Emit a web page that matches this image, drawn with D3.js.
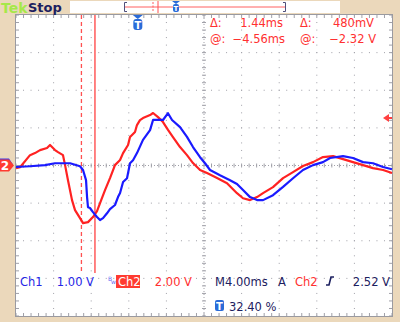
<!DOCTYPE html>
<html>
<head>
<meta charset="utf-8">
<script src="https://cdn.jsdelivr.net/npm/d3@7"></script>
<style>
  body { margin: 0; background: #ebd8bb; }
  svg { display: block; }
  text { font-family: "DejaVu Sans", sans-serif; }
</style>
</head>
<body>
<div id="scope"></div>
<script>
// Scope settings
let timePerDiv = 4.00;      // ms
let ch1VoltsPerDiv = 1.00;  // V
let ch2VoltsPerDiv = 2.00;  // V
let triggerPct = 32.40;     // %
let triggerLevel = 2.52;    // V on Ch2
let cursorTimes = [-6.00, -4.56]; // ms
let deltaVolts = 480;       // mV
let cursorVolts = -2.32;    // V

// Ch1 (blue) samples: time ms / volts
let ch1Times = [-12.96, -11.47, -9.87, -8.81, -7.21, -6.15, -5.83, -5.51, -5.40, -5.30, -5.09, -4.77, -4.34, -4.02,
    -3.70, -3.28, -2.96, -2.43, -2.11, -1.89, -1.57, -1.15, -0.83, -0.51, -0.09, 0.55, 1.30, 1.62, 2.15, 2.68, 3.21,
    3.64, 4.49, 5.23, 5.87, 6.62, 7.15, 7.68, 8.74, 9.81, 10.55, 11.19, 11.94, 12.68, 13.32, 14.38, 15.45, 16.51,
    17.57, 18.64, 19.70, 20.45, 21.83, 22.89, 23.96, 25.02, 26.09, 27.04];
let ch1Volts = [-0.04, -0.02, 0.01, 0.06, 0.06, -0.02, -0.12, -0.39, -0.84, -1.11, -1.13, -1.24, -1.37, -1.45,
    -1.40, -1.27, -1.16, -1.05, -0.84, -0.73, -0.44, -0.34, 0.06, 0.14, 0.33, 0.68, 0.94, 1.21, 1.21, 1.21, 1.39,
    1.21, 1.02, 0.76, 0.49, 0.22, 0.06, -0.12, -0.26, -0.39, -0.49, -0.65, -0.84, -0.92, -0.92, -0.79, -0.57, -0.34,
    -0.12, 0.01, 0.09, 0.20, 0.25, 0.20, 0.09, 0.06, -0.04, -0.10];

// Ch2 (red) samples: time ms / volts
let ch2Times = [-12.96, -12.53, -11.47, -10.94, -10.40, -9.66, -9.34, -8.81, -8.49, -7.96, -7.74, -7.43, -7.00,
    -6.68, -6.15, -5.83, -5.30, -4.77, -4.34, -4.02, -3.49, -2.96, -2.43, -1.89, -1.57, -1.04, -0.83, -0.30, -0.09,
    0.23, 0.55, 1.30, 1.62, 2.15, 2.68, 3.21, 3.74, 4.49, 5.23, 5.87, 6.62, 7.36, 8.43, 9.49, 10.55, 11.19, 11.94,
    12.68, 13.32, 14.38, 15.45, 16.51, 17.57, 18.64, 19.70, 20.77, 21.83, 22.89, 23.96, 25.02, 26.09, 27.04];
let ch2Volts = [-0.14, -0.09, 0.55, 0.66, 0.82, 0.93, 1.09, 0.82, 0.71, 0.55, 0.02, -0.78, -1.84,
    -2.37, -2.80, -3.06, -3.01, -2.74, -2.43, -2.00, -1.31, -0.67, 0.02, 0.29, 0.66, 1.09, 1.51, 1.78, 2.15,
    2.41, 2.52, 2.68, 2.79, 2.57, 2.31, 1.89, 1.51, 0.98, 0.55, 0.13, -0.24, -0.40, -0.67, -0.94, -1.47, -1.74, -1.84,
    -1.68, -1.47, -1.15, -0.67, -0.35, -0.03, 0.18, 0.45, 0.50, 0.34, 0.18, 0.02, -0.14, -0.24, -0.40];

let width = 400;
let height = 322;
let gLeft = 16, gRight = 392, gTop = 15, gBottom = 316;

let svg = d3.select('#scope')
    .append('svg')
    .attr('width', width)
    .attr('height', height);

// Scales
let tStart = -triggerPct / 100 * 10 * timePerDiv;
let x = d3.scaleLinear().domain([tStart, tStart + 10 * timePerDiv]).range([gLeft, gRight]);
let y1 = d3.scaleLinear().domain([-4 * ch1VoltsPerDiv, 4 * ch1VoltsPerDiv]).range([gBottom, gTop]);
let y2 = d3.scaleLinear().domain([-4 * ch2VoltsPerDiv, 4 * ch2VoltsPerDiv]).range([gBottom, gTop]);
let divX = d3.scaleLinear().domain([0, 10]).range([gLeft, gRight]);
let divY = d3.scaleLinear().domain([0, 8]).range([gTop, gBottom]);

// Graticule
svg.append('rect')
    .attr('x', gLeft).attr('y', gTop - 1)
    .attr('width', gRight - gLeft).attr('height', gBottom - gTop + 1)
    .attr('fill', '#ffffff');

let grid = svg.append('g').attr('fill', '#a0a0a8');
let minor = d3.range(0, 51).map(function(d) { return d / 5; });
let minorY = d3.range(0, 41).map(function(d) { return d / 5; });

// dotted lines
d3.range(1, 10).forEach(function(i) {
    if (i === 5) return;
    minorY.forEach(function(j) {
        grid.append('rect').attr('x', divX(i) - 0.5).attr('y', divY(j) - 0.5).attr('width', 1).attr('height', 1);
    });
});
d3.range(1, 8).forEach(function(j) {
    if (j === 4) return;
    minor.forEach(function(i) {
        grid.append('rect').attr('x', divX(i) - 0.5).attr('y', divY(j) - 0.5).attr('width', 1).attr('height', 1);
    });
});

// center cross with ticks
let axes = svg.append('g').attr('stroke', '#a0a0a8').attr('stroke-width', 1);
axes.append('line')
    .attr('x1', gLeft).attr('x2', gRight).attr('y1', divY(4)).attr('y2', divY(4))
    .attr('stroke-dasharray', '1,2');
axes.append('line')
    .attr('x1', divX(5)).attr('x2', divX(5)).attr('y1', gTop).attr('y2', gBottom)
    .attr('stroke-dasharray', '1,2');
minor.forEach(function(i) {
    axes.append('line').attr('x1', divX(i)).attr('x2', divX(i)).attr('y1', divY(4) - 2).attr('y2', divY(4) + 2);
    axes.append('line').attr('x1', divX(i)).attr('x2', divX(i)).attr('y1', gTop).attr('y2', gTop + 3);
    axes.append('line').attr('x1', divX(i)).attr('x2', divX(i)).attr('y1', gBottom - 3).attr('y2', gBottom);
});
minorY.forEach(function(j) {
    axes.append('line').attr('x1', divX(5) - 2).attr('x2', divX(5) + 2).attr('y1', divY(j)).attr('y2', divY(j));
    axes.append('line').attr('x1', gLeft).attr('x2', gLeft + 3).attr('y1', divY(j)).attr('y2', divY(j));
    axes.append('line').attr('x1', gRight - 3).attr('x2', gRight).attr('y1', divY(j)).attr('y2', divY(j));
});

// border
svg.append('rect')
    .attr('x', gLeft - 0.5).attr('y', gTop - 0.5)
    .attr('width', gRight - gLeft + 1).attr('height', gBottom - gTop + 1)
    .attr('fill', 'none').attr('stroke', '#9a9aa0');

// Cursors
let cursorBottom = 273;
svg.append('line')
    .attr('x1', x(cursorTimes[0])).attr('x2', x(cursorTimes[0]))
    .attr('y1', gTop).attr('y2', cursorBottom)
    .attr('stroke', '#ff5050').attr('stroke-width', 1.3).attr('stroke-dasharray', '4,3');
svg.append('line')
    .attr('x1', x(cursorTimes[1])).attr('x2', x(cursorTimes[1]))
    .attr('y1', gTop).attr('y2', cursorBottom)
    .attr('stroke', '#ff4040').attr('stroke-width', 1.3);

// Waveforms
let line1 = d3.line()
    .x(function(d, i) { return x(ch1Times[i]); })
    .y(function(d) { return y1(d); });
let line2 = d3.line()
    .x(function(d, i) { return x(ch2Times[i]); })
    .y(function(d) { return y2(d); });

svg.append('path')
    .datum(ch2Volts)
    .attr('d', line2)
    .attr('fill', 'none')
    .attr('stroke', '#ff2222')
    .attr('stroke-width', 2.2)
    .attr('stroke-linejoin', 'round');

svg.append('path')
    .datum(ch1Volts)
    .attr('d', line1)
    .attr('fill', 'none')
    .attr('stroke', '#1a1aff')
    .attr('stroke-width', 2.2)
    .attr('stroke-linejoin', 'round');

// Top bar
svg.append('rect').attr('x', 0).attr('y', 0).attr('width', width).attr('height', gTop - 1).attr('fill', '#ebd8bb');
svg.append('text').attr('x', 1).attr('y', 13)
    .attr('font-size', 14).attr('font-weight', 'bold').attr('fill', '#a6e84a').text('Tek');
svg.append('text').attr('x', 28).attr('y', 12)
    .attr('font-size', 13).attr('font-weight', 'bold').attr('fill', '#1c2060').text('Stop');

// record view
svg.append('rect').attr('x', 70).attr('y', 1).attr('width', 270).attr('height', 12).attr('fill', '#ffffff');
svg.append('line').attr('x1', 124).attr('x2', 286).attr('y1', 7).attr('y2', 7).attr('stroke', '#ff6060').attr('stroke-width', 1);
svg.append('path').attr('d', 'M127,2.5 H124.5 V11.5 H127').attr('fill', 'none').attr('stroke', '#50507a');
svg.append('path').attr('d', 'M283,2.5 H285.5 V11.5 H283').attr('fill', 'none').attr('stroke', '#50507a');
svg.append('line').attr('x1', 153).attr('x2', 153).attr('y1', 2).attr('y2', 12)
    .attr('stroke', '#ff6060').attr('stroke-dasharray', '2,1.5');
svg.append('line').attr('x1', 158).attr('x2', 158).attr('y1', 1).attr('y2', 13).attr('stroke', '#ff5050');
svg.append('path').attr('d', 'M172,1 H180 L176,4 Z').attr('fill', '#2a6bd8');
svg.append('rect').attr('x', 173).attr('y', 4).attr('width', 6).attr('height', 8).attr('rx', 2).attr('fill', '#2a6bd8');
svg.append('text').attr('x', 176).attr('y', 11).attr('text-anchor', 'middle')
    .attr('font-size', 7).attr('font-weight', 'bold').attr('fill', '#ffffff').text('T');

// Trigger position marker
let tx = x(0);
svg.append('path').attr('d', 'M' + (tx - 5) + ',15 H' + (tx + 5) + ' L' + tx + ',19 Z').attr('fill', '#2a6bd8');
svg.append('rect').attr('x', tx - 4.5).attr('y', 19).attr('width', 9).attr('height', 11).attr('rx', 3).attr('fill', '#2a6bd8');
svg.append('text').attr('x', tx).attr('y', 28.5).attr('text-anchor', 'middle')
    .attr('font-size', 10).attr('font-weight', 'bold').attr('fill', '#ffffff').text('T');

// Trigger level marker (right)
let ty = y2(triggerLevel);
svg.append('path')
    .attr('d', 'M' + (gRight - 9) + ',' + ty + ' L' + (gRight - 3) + ',' + (ty - 4) + ' V' + (ty - 1) + ' H' + gRight +
        ' V' + (ty + 1) + ' H' + (gRight - 3) + ' V' + (ty + 4) + ' Z')
    .attr('fill', '#ff4040');

// Channel ground marker (left)
let gy = y2(0);
svg.append('path').attr('d', 'M0,' + (gy - 7) + ' H9 L13,' + (gy - 1) + ' L9,' + (gy + 5) + ' H0 Z').attr('fill', '#3a3ae8');
svg.append('path').attr('d', 'M0,' + (gy - 6) + ' H9 L14,' + gy + ' L9,' + (gy + 6) + ' H0 Z').attr('fill', '#ff3b30');
svg.append('text').attr('x', 5).attr('y', gy + 4.5).attr('text-anchor', 'middle')
    .attr('font-size', 12).attr('font-weight', 'bold').attr('fill', '#ffffff').text('2');

// Cursor readout
let red = '#ff3030';
let navy = '#1c2060';
let blue = '#2626e6';
let fmtMs = function(v) { return (v < 0 ? '\u2212' : '') + Math.abs(v).toFixed(2) + 'ms'; };
let fmtV = function(v) { return (v < 0 ? '\u2212' : '') + Math.abs(v).toFixed(2) + ' V'; };
let readout = svg.append('g').attr('font-size', 11.5).attr('fill', red);
readout.append('text').attr('x', 210).attr('y', 27).text('\u0394:');
readout.append('text').attr('x', 283).attr('y', 27).attr('text-anchor', 'end').text(fmtMs(cursorTimes[1] - cursorTimes[0]));
readout.append('text').attr('x', 300).attr('y', 27).text('\u0394:');
readout.append('text').attr('x', 374).attr('y', 27).attr('text-anchor', 'end').text(deltaVolts + 'mV');
readout.append('text').attr('x', 210).attr('y', 43).text('@:');
readout.append('text').attr('x', 285).attr('y', 43).attr('text-anchor', 'end').text(fmtMs(cursorTimes[1]));
readout.append('text').attr('x', 300).attr('y', 43).text('@:');
readout.append('text').attr('x', 376).attr('y', 43).attr('text-anchor', 'end').text(fmtV(cursorVolts));

// Bottom status
let status = svg.append('g').attr('font-size', 11.5);
status.append('text').attr('x', 20).attr('y', 286).attr('fill', blue).text('Ch1');
status.append('text').attr('x', 94).attr('y', 286).attr('text-anchor', 'end').attr('fill', blue).text(fmtV(ch1VoltsPerDiv));
status.append('text').attr('x', 108).attr('y', 281).attr('font-size', 6).attr('fill', '#6a6af0').text('B');
status.append('text').attr('x', 111).attr('y', 284).attr('font-size', 6).attr('fill', '#6a6af0').text('w');
status.append('rect').attr('x', 116).attr('y', 275).attr('width', 24).attr('height', 13).attr('fill', '#ff3b30');
status.append('text').attr('x', 118).attr('y', 286).attr('fill', '#ffffff').text('Ch2');
status.append('text').attr('x', 192).attr('y', 286).attr('text-anchor', 'end').attr('fill', red).text(fmtV(ch2VoltsPerDiv));
status.append('text').attr('x', 215).attr('y', 286).attr('fill', navy).text('M' + timePerDiv.toFixed(2) + 'ms');
status.append('text').attr('x', 278).attr('y', 286).attr('fill', navy).text('A');
status.append('text').attr('x', 295).attr('y', 286).attr('fill', red).text('Ch2');
status.append('path').attr('d', 'M326,285 H329 L331,277 H334').attr('fill', 'none').attr('stroke', navy).attr('stroke-width', 1.6);
status.append('text').attr('x', 390).attr('y', 286).attr('text-anchor', 'end').attr('fill', navy).text(fmtV(triggerLevel));
status.append('rect').attr('x', 215).attr('y', 300).attr('width', 9).attr('height', 11).attr('rx', 2).attr('fill', '#2a6bd8');
status.append('text').attr('x', 219.5).attr('y', 309.5).attr('text-anchor', 'middle').attr('font-size', 10)
    .attr('font-weight', 'bold').attr('fill', '#ffffff').text('T');
status.append('text').attr('x', 229).attr('y', 311).attr('fill', navy).text(triggerPct.toFixed(2) + ' %');
</script>
</body>
</html>
